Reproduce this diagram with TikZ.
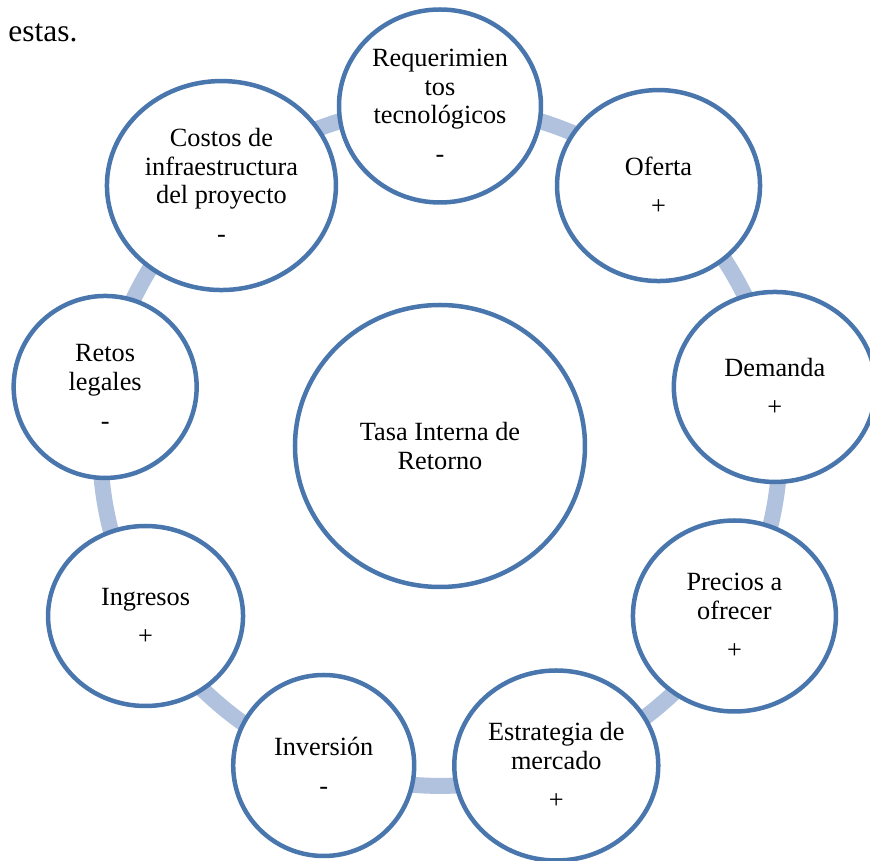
\documentclass[tikz,border=0pt]{standalone}
\usepackage{fontspec}
\setmainfont{Liberation Serif}
\usetikzlibrary{shapes.geometric,backgrounds}

% one drawing unit
\newdimen\pxu \pxu=0.4545pt

\definecolor{ringblue}{RGB}{176,194,222}
\definecolor{edgeblue}{RGB}{74,118,174}

\tikzset{
  factor/.style 2 args={ellipse, draw=edgeblue, line width=4.5\pxu, fill=white,
    inner sep=0pt, align=center, minimum width=#1\pxu, minimum height=#2\pxu,
    font=\fontsize{11.95pt}{12.9pt}\selectfont},
  ringband/.style={draw=ringblue, line width=16\pxu},
}

\begin{document}
\begin{tikzpicture}[x=\pxu, y=\pxu]
\useasboundingbox (-440,-415) rectangle (430,446);

\node[anchor=base west, inner sep=0pt, font=\fontsize{14.3pt}{16pt}\selectfont]
  (lead) at (-432,404) {estas.};

% central factor
\node[factor={290}{282}] (tir) at (0,0) {Tasa Interna de\\Retorno};

% surrounding factors, clockwise from the top
\node[factor={202}{193}] (req) at (90:340)  {Requerimien\\tos\\tecnológicos\\[4.9pt]-};
\node[factor={203}{191}] (ofe) at (50:340)  {Oferta\\[4.9pt]+};
\node[factor={202}{190}] (dem) at (10:340)  {Demanda\\[4.9pt]+};
\node[factor={203}{191}] (pre) at (-30:340) {Precios a\\ofrecer\\[4.9pt]+};
\node[factor={204}{190}] (est) at (-70:340) {Estrategia de\\mercado\\[4.9pt]+};
\node[factor={181}{181}] (inv) at (-110:340) {Inversión\\[4.9pt]-};
\node[factor={195}{180}] (ing) at (-150:340) {Ingresos\\[4.9pt]+};
\node[factor={183}{182}] (ret) at (170:340) {Retos\\legales\\[4.9pt]-};
\node[factor={229}{209}] (cos) at (130:340) {Costos de\\infraestructura\\del proyecto\\[4.9pt]-};

% cycle band linking neighbouring factors
\begin{pgfonlayer}{background}
  \foreach \a/\b in {req/ofe, ofe/dem, dem/pre, pre/est, est/inv, inv/ing, ing/ret, ret/cos, cos/req}
    \draw[ringband] (\a.center) to[bend left=20, looseness=0.877] (\b.center);
\end{pgfonlayer}
\end{tikzpicture}
\end{document}
